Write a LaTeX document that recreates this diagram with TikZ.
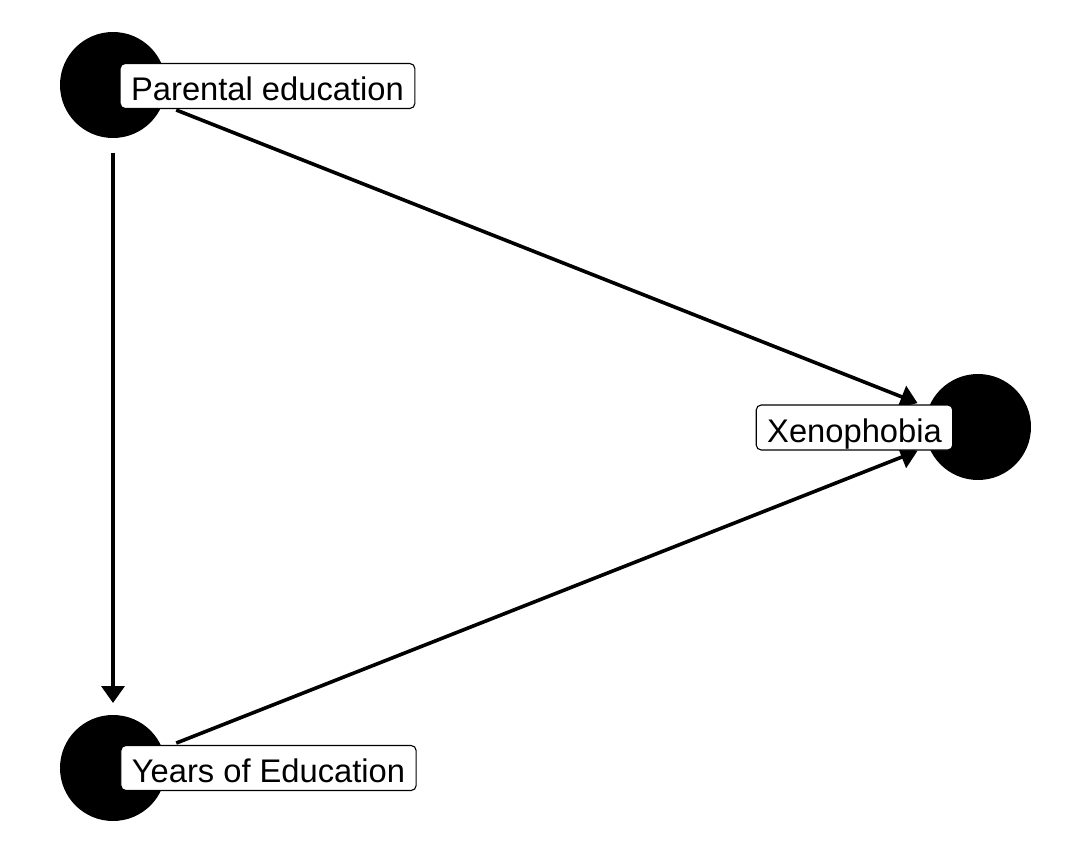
\documentclass[tikz,border=0pt]{standalone}
\usepackage{fontspec}
\setmainfont{Liberation Sans}
\usetikzlibrary{arrows.meta}
\tikzset{
  dot/.style={circle, fill=black, draw=none, minimum size=106pt, inner sep=0pt},
  lab/.style={draw=black, line width=1.1pt, fill=white, rounded corners=5pt,
    font=\fontsize{32.7pt}{36pt}\selectfont, inner xsep=11pt, inner ysep=0pt,
    minimum height=45pt, text height=37pt, text depth=8pt},
  edge/.style={line width=3.6pt, -{Triangle[length=17pt,width=23pt]},
    shorten <=68pt, shorten >=65pt}
}
\begin{document}
\begin{tikzpicture}[x=1pt,y=-1pt]
\useasboundingbox[fill=white] (0,0) rectangle (1080,864);
\node[dot] (pe) at (113,85) {};
\node[dot] (xe) at (978,427) {};
\node[dot] (ye) at (113,768) {};
\draw[edge] (pe.center) -- (xe.center);
\draw[edge] (pe.center) -- (ye.center);
\draw[edge] (ye.center) -- (xe.center);
\node[lab] (pel) at (267.5,86) {Parental education};
\node[lab] (xel) at (854.5,427.5) {Xenophobia};
\node[lab] (yel) at (268.5,768) {Years of Education};
\end{tikzpicture}
\end{document}
